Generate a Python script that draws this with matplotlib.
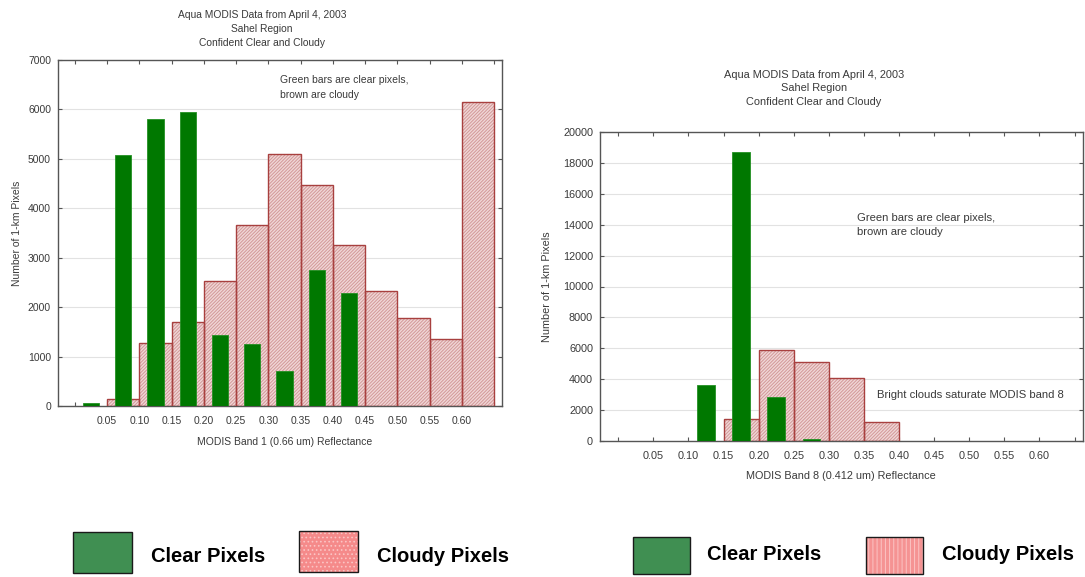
import numpy as np
import matplotlib
matplotlib.use("Agg")
import matplotlib.pyplot as plt
from matplotlib.patches import Rectangle

FIG_W, FIG_H = 1085, 577

# reflectance bins, 0.05 wide, given by their left edge
bin_left = [0.00, 0.05, 0.10, 0.15, 0.20, 0.25, 0.30, 0.35, 0.40, 0.45, 0.50, 0.55, 0.60]
tick_pos = [0.00, 0.05, 0.10, 0.15, 0.20, 0.25, 0.30, 0.35, 0.40, 0.45, 0.50, 0.55, 0.60, 0.65]
tick_labels = ["", "0.05", "0.10", "0.15", "0.20", "0.25", "0.30", "0.35", "0.40",
               "0.45", "0.50", "0.55", "0.60", ""]

# MODIS band 1 (0.66 um)
band1_cloudy = [0, 140, 1280, 1700, 2530, 3670, 5100, 4480, 3250, 2320, 1780, 1350, 6150]
band1_clear = [70, 5080, 5800, 5950, 1440, 1250, 710, 2760, 2290, 0, 0, 0, 0]

# MODIS band 8 (0.412 um)
band8_cloudy = [0, 0, 0, 1400, 5900, 5100, 4050, 1200, 0, 0, 0, 0, 0]
band8_clear = [0, 0, 3650, 18700, 2850, 100, 0, 0, 0, 0, 0, 0, 0]

title_lines = ["Aqua MODIS Data from April 4, 2003", "Sahel Region", "Confident Clear and Cloudy"]

TEXT = "#3a3a3a"
plt.rcParams["font.family"] = ["Liberation Sans", "DejaVu Sans"]
plt.rcParams["hatch.linewidth"] = 0.7


def fx(x):
    return x / FIG_W


def fy(y):
    return 1 - y / FIG_H


def draw_histogram(ax, cloudy, clear, ymax, ystep, fs):
    left = np.array(bin_left)
    cloudy = np.array(cloudy)
    clear = np.array(clear)

    m = cloudy > 0
    ax.bar(left[m], cloudy[m], width=0.05, align="edge", color="#f0d6d6",
           hatch="//////////", edgecolor="#d29898", linewidth=0, zorder=2)
    ax.bar(left[m], cloudy[m], width=0.05, align="edge", fill=False,
           edgecolor="#a8403f", linewidth=1.0, zorder=3)

    m = clear > 0
    ax.bar(left[m] + 0.025, clear[m], width=0.025, color="#007800",
           edgecolor="#239023", linewidth=0.6, zorder=4)

    ax.set_xlim(-0.026, 0.662)
    ax.set_ylim(0, ymax)
    ax.set_yticks(np.arange(0, ymax + 1, ystep))
    ax.set_xticks(tick_pos)
    ax.set_xticklabels(tick_labels)
    ax.grid(axis="y", color="#e2e2e2", linewidth=0.8, zorder=0)
    ax.set_axisbelow(True)
    ax.tick_params(direction="in", length=3, width=0.8, top=True, right=True,
                   labelsize=fs, labelcolor=TEXT, color="#555555")
    ax.tick_params(axis="x", pad=7)
    ax.tick_params(axis="y", pad=5)
    for s in ax.spines.values():
        s.set_color("#555555")
        s.set_linewidth(1.0)


def draw_title(fig, cx, ys, fs):
    for line, y in zip(title_lines, ys):
        fig.text(fx(cx), fy(y), line, ha="center", va="center", fontsize=fs, color=TEXT)


def draw_legend(fig, green_box, pink_box, clear_x, cloudy_x, text_y, pink_face, pink_hatch):
    x0, y0, x1, y1 = green_box
    fig.add_artist(Rectangle((fx(x0), fy(y1)), fx(x1 - x0), (y1 - y0) / FIG_H,
                             transform=fig.transFigure, facecolor="#408f52",
                             edgecolor="#1a1a1a", linewidth=1.0))
    x0, y0, x1, y1 = pink_box
    fig.add_artist(Rectangle((fx(x0), fy(y1)), fx(x1 - x0), (y1 - y0) / FIG_H,
                             transform=fig.transFigure, facecolor=pink_face,
                             hatch=pink_hatch, edgecolor="#fbc4c4", linewidth=0))
    fig.add_artist(Rectangle((fx(x0), fy(y1)), fx(x1 - x0), (y1 - y0) / FIG_H,
                             transform=fig.transFigure, fill=False,
                             edgecolor="#1a1a1a", linewidth=1.0))
    for label, x in [("Clear Pixels", clear_x), ("Cloudy Pixels", cloudy_x)]:
        fig.text(fx(x), fy(text_y), label, ha="left", va="center", fontsize=14.5,
                 fontweight="bold", color="black")


def main():
    fig = plt.figure(figsize=(FIG_W / 100, FIG_H / 100), dpi=100)

    # left panel: band 1
    ax1 = fig.add_axes([fx(58), fy(406), fx(502 - 58), (406 - 60) / FIG_H])
    draw_histogram(ax1, band1_cloudy, band1_clear, 7000, 1000, 7.5)
    draw_title(fig, 262, [15, 29, 43], 7.4)
    fig.text(fx(17), fy(233), "Number of 1-km Pixels", rotation=90, ha="center",
             va="center", fontsize=7.5, color=TEXT)
    fig.text(fx(285), fy(442), "MODIS Band 1 (0.66 um) Reflectance", ha="center",
             va="center", fontsize=7.5, color=TEXT)
    fig.text(fx(280), fy(80), "Green bars are clear pixels,", ha="left", va="center",
             fontsize=7.5, color=TEXT)
    fig.text(fx(280), fy(95), "brown are cloudy", ha="left", va="center",
             fontsize=7.5, color=TEXT)

    # right panel: band 8
    ax2 = fig.add_axes([fx(600), fy(441), fx(1083 - 600), (441 - 132) / FIG_H])
    draw_histogram(ax2, band8_cloudy, band8_clear, 20000, 2000, 7.8)
    draw_title(fig, 814, [75, 88, 102], 7.9)
    fig.text(fx(547), fy(287), "Number of 1-km Pixels", rotation=90, ha="center",
             va="center", fontsize=7.8, color=TEXT)
    fig.text(fx(841), fy(476), "MODIS Band 8 (0.412 um) Reflectance", ha="center",
             va="center", fontsize=7.8, color=TEXT)
    fig.text(fx(857), fy(218), "Green bars are clear pixels,", ha="left", va="center",
             fontsize=8.1, color=TEXT)
    fig.text(fx(857), fy(232), "brown are cloudy", ha="left", va="center",
             fontsize=8.1, color=TEXT)
    fig.text(fx(877), fy(395), "Bright clouds saturate MODIS band 8", ha="left",
             va="center", fontsize=8.1, color=TEXT)

    # legends under each panel
    draw_legend(fig, (73, 532, 132, 573), (299, 531, 358, 572), 151, 377, 556,
                "#f58a8a", "....")
    draw_legend(fig, (633, 537, 690, 574), (866, 537, 923, 574), 707, 942, 555,
                "#f59393", "||||")

    fig.savefig("out.png", dpi=100)


if __name__ == "__main__":
    main()
